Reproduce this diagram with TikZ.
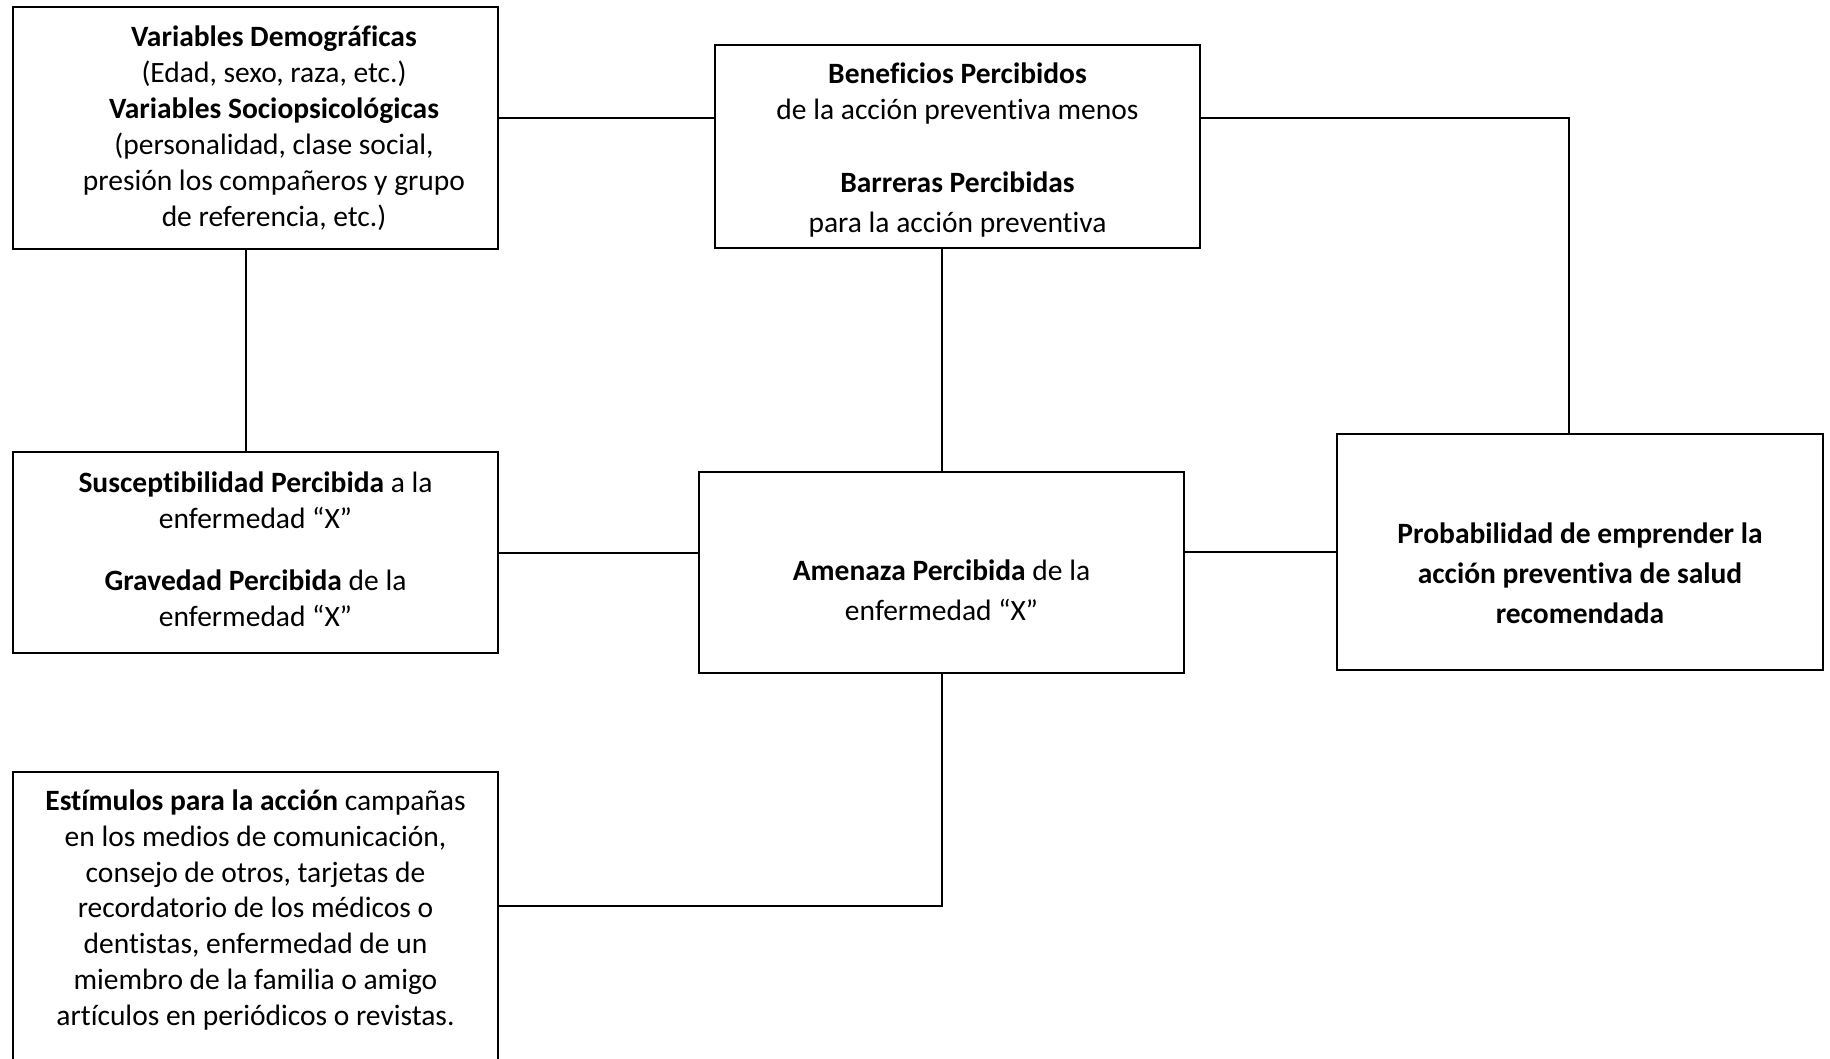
\documentclass[tikz,border=0pt]{standalone}
\usepackage{fontspec}
\setmainfont[Ligatures=NoCommon]{Carlito}
\begin{document}
\begin{tikzpicture}[x=1pt,y=-1pt,
  box/.style={draw=black,line width=2pt,rectangle,inner sep=0pt,fill=none},
  txt/.style={align=center,inner sep=0pt,font=\fontsize{29.5}{36}\selectfont,text=black},
  txtw/.style={align=center,inner sep=0pt,font=\fontsize{29.5}{40}\selectfont,text=black},
  conn/.style={draw=black,line width=2pt}]
\useasboundingbox (0,0) rectangle (1830,1059);
\clip (0,0) rectangle (1830,1059);
\fill[white] (0,0) rectangle (1830,1059);
% boxes
\node[box,minimum width=485pt,minimum height=242pt] (A) at (255.5,128) {};
\node[box,minimum width=485pt,minimum height=203pt] (B) at (957.5,146.5) {};
\node[box,minimum width=485pt,minimum height=201pt] (C) at (255.5,552.5) {};
\node[box,minimum width=485pt,minimum height=201pt] (D) at (941.5,572.5) {};
\node[box,minimum width=486pt,minimum height=236pt] (E) at (1580,552) {};
\node[box,minimum width=485pt,minimum height=318pt] (F) at (255.5,931) {};
% texts
\node[txt] (tA) at (274,128) {\textbf{Variables Demográficas}\\(Edad, sexo, raza, etc.)\\\textbf{Variables Sociopsicológicas}\\(personalidad, clase social,\\presión los compañeros y grupo\\de referencia, etc.)};
\node[txt] (tB) at (957.5,150) {\textbf{Beneficios Percibidos}\\de la acción preventiva menos\\[37pt]\textbf{Barreras Percibidas}\\[4pt]para la acción preventiva};
\node[txt] (tC) at (255.5,549) {\textbf{Susceptibilidad Percibida} a la\\enfermedad “X”\\[26pt]\textbf{Gravedad Percibida} de la\\enfermedad “X”};
\node[txtw] (tD) at (941.5,590) {\textbf{Amenaza Percibida} de la\\enfermedad “X”};
\node[txtw,font=\bfseries\fontsize{29.5}{40}\selectfont] (tE) at (1580,573) {Probabilidad de emprender la\\acción preventiva de salud\\recomendada};
\node[txt,font=\fontsize{29.5}{35.7}\selectfont] (tF) at (255.5,910) {\textbf{Estímulos para la acción} campañas\\en los medios de comunicación,\\consejo de otros, tarjetas de\\recordatorio de los médicos o\\dentistas, enfermedad de un\\miembro de la familia o amigo\\artículos en periódicos o revistas.};
% helper coordinates
\coordinate (r1) at (0,118);
\coordinate (k1) at (1569,118);
\coordinate (v1) at (246,0);
\coordinate (k2) at (0,906);
% connectors
\draw[conn] (A.east |- r1) -- (B.west |- r1);
\draw[conn] (B.east |- k1) -- (k1) -- (k1 |- E.north);
\draw[conn] (A.south -| v1) -- (C.north -| v1);
\draw[conn] (B.south -| D.north) -- (D.north);
\draw[conn] (C.east) -- (C.east -| D.west);
\draw[conn] (D.east |- E.west) -- (E.west);
\draw[conn] (D.south) -- (D.south |- k2) -- (F.east |- k2);
\end{tikzpicture}
\end{document}
